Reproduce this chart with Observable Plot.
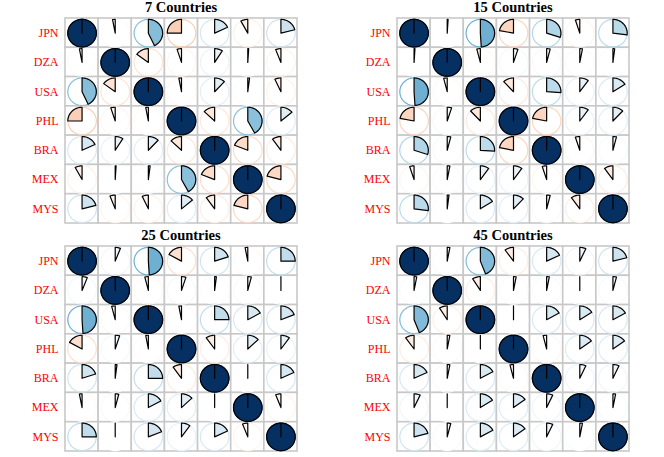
<!DOCTYPE html>
<html><head><meta charset="utf-8">
<script src="https://cdn.jsdelivr.net/npm/d3@7"></script>
<script src="https://cdn.jsdelivr.net/npm/@observablehq/plot@0.6"></script>
<style>
body{margin:0;background:#fff;}
#wrap{display:grid;grid-template-columns:332px 332px;grid-template-rows:228px 229px;width:664px;height:457px;}
.panel{position:relative;width:332px;overflow:hidden;}
.title{margin-left:65px;width:232px;text-align:center;font:bold 14.5px "Liberation Serif",serif;line-height:15px;height:16px;color:#000;}
.panel svg{display:block;}
</style></head><body><div id="wrap"></div>
<script>
const countries = ["JPN","DZA","USA","PHL","BRA","MEX","MYS"];
const panelTitles = ["7 Countries","15 Countries","25 Countries","45 Countries"];
// upper-triangle correlations, order: JPN-DZA, JPN-USA, JPN-PHL, JPN-BRA, JPN-MEX, JPN-MYS,
// DZA-USA, DZA-PHL, DZA-BRA, DZA-MEX, DZA-MYS, USA-PHL, USA-BRA, USA-MEX, USA-MYS,
// PHL-BRA, PHL-MEX, PHL-MYS, BRA-MEX, BRA-MYS, MEX-MYS
const corr7  = [-0.03, 0.43, -0.25, 0.18, -0.08, 0.21, -0.15, -0.05, 0.09, 0.01, -0.06, -0.03, 0.12, 0.02, -0.07, -0.13, 0.42, 0.14, -0.19, -0.10, -0.21];
const corr15 = [0.01, 0.49, -0.22, 0.30, -0.05, 0.27, -0.04, 0.05, 0.04, 0.03, 0.02, -0.12, 0.26, 0.10, 0.16, -0.22, 0.10, 0.12, -0.05, 0.04, -0.10];
const corr25 = [0.06, 0.49, -0.17, 0.20, -0.03, 0.25, -0.04, 0.05, 0.02, 0.04, 0.00, -0.03, 0.25, 0.17, 0.19, -0.10, 0.13, 0.10, 0.00, 0.18, -0.06];
const corr45 = [0.03, 0.44, -0.10, 0.18, 0.07, 0.21, -0.09, 0.03, 0.03, 0.00, 0.04, 0.00, 0.17, 0.16, 0.17, -0.04, 0.15, 0.15, 0.07, 0.07, 0.03];
const panels = [corr7, corr15, corr25, corr45];
const palette = ["#67001F","#B2182B","#D6604D","#F4A582","#FDDBC7","#FFFFFF","#D1E5F0","#92C5DE","#4393C3","#2166AC","#053061"];

const RX = 0.43, RY = 0.47;
const n = countries.length;

function buildMatrix(upper){
  const M = countries.map(() => countries.map(() => 1));
  let k = 0;
  for (let i = 0; i < n; i++) for (let j = i + 1; j < n; j++) { M[i][j] = M[j][i] = upper[k++]; }
  return M;
}

const wrap = document.getElementById("wrap");
panels.forEach((upper, p) => {
  const M = buildMatrix(upper);
  const cells = [], ring = [], wedge = [];
  for (let i = 0; i < n; i++) for (let j = 0; j < n; j++) {
    const r = M[i][j], id = i * n + j;
    cells.push({row: i, col: j, r});
    for (let s = 0; s < 72; s++) {
      const t = s / 72 * 2 * Math.PI;
      ring.push({id, r, x: j + RX * Math.sin(t), y: i - RY * Math.cos(t)});
    }
    wedge.push({id, r, x: j, y: i});
    const steps = Math.max(2, Math.ceil(Math.abs(r) * 90));
    for (let s = 0; s <= steps; s++) {
      const t = (s / steps) * r * 2 * Math.PI;
      wedge.push({id, r, x: j + RX * Math.sin(t), y: i - RY * Math.cos(t)});
    }
  }
  const div = document.createElement("div");
  div.className = "panel";
  const title = document.createElement("div");
  title.className = "title";
  title.textContent = panelTitles[p];
  div.appendChild(title);
  const chart = Plot.plot({
    width: 332, height: 212,
    marginLeft: 65, marginRight: 35, marginTop: 2, marginBottom: 5,
    style: {fontFamily: "'Liberation Serif', serif", fontSize: "12px", color: "#ff0000", background: "transparent"},
    x: {domain: [-0.5, n - 0.5], axis: null},
    y: {domain: [-0.5, n - 0.5], reverse: true, ticks: d3.range(n), tickFormat: i => countries[i], tickSize: 0, tickPadding: 7, label: null},
    color: {type: "linear", domain: [-1, 1], interpolate: d3.piecewise(d3.interpolateRgb, palette)},
    marks: [
      Plot.rect(cells, {x1: d => d.col - 0.5, x2: d => d.col + 0.5, y1: d => d.row - 0.5, y2: d => d.row + 0.5, fill: "white", stroke: "#c8c8c8", strokeWidth: 1.6}),
      Plot.line(ring, {x: "x", y: "y", z: "id", stroke: "r", strokeWidth: 1.2, curve: "linear-closed"}),
      Plot.line(wedge, {x: "x", y: "y", z: "id", fill: "r", stroke: "black", strokeWidth: 1.2, curve: "linear-closed"})
    ]
  });
  div.appendChild(chart);
  wrap.appendChild(div);
});
</script></body></html>
